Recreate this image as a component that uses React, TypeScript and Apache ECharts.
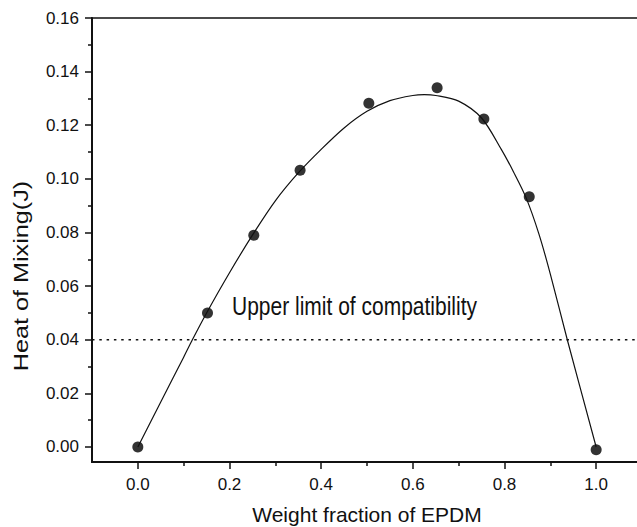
import React, { useEffect, useRef } from "react";
import * as echarts from "echarts";

// Measured data points (weight fraction of EPDM, heat of mixing in J)
const pointX = [0, 0.152, 0.253, 0.354, 0.504, 0.653, 0.755, 0.854, 1.0];
const pointY = [0, 0.05, 0.079, 0.1032, 0.1282, 0.134, 0.1223, 0.0933, -0.001];

// Fitted curve
const curveX = [0, 0.05, 0.1, 0.119, 0.15, 0.2, 0.25, 0.3, 0.35, 0.4, 0.45, 0.5, 0.55, 0.6, 0.625, 0.65, 0.7, 0.75, 0.793, 0.82, 0.847, 0.875, 0.9, 0.937, 1.0];
const curveY = [0, 0.0168, 0.0335, 0.04, 0.05, 0.065, 0.079, 0.0918, 0.1022, 0.111, 0.119, 0.1252, 0.1292, 0.1311, 0.1314, 0.1311, 0.129, 0.1227, 0.111, 0.1025, 0.093, 0.0795, 0.0645, 0.04, 0];

// Upper limit of compatibility
const limitX = [-0.1, 1.1];
const limitY = [0.04, 0.04];

const xTicks = [0, 0.2, 0.4, 0.6, 0.8, 1.0];
const xMinorTicks = [0.1, 0.3, 0.5, 0.7, 0.9];
const yTicks = [0, 0.02, 0.04, 0.06, 0.08, 0.1, 0.12, 0.14, 0.16];
const yMinorTicks = [0.01, 0.03, 0.05, 0.07, 0.09, 0.11, 0.13, 0.15];

const FONT = '"Liberation Sans", Arial, Helvetica, sans-serif';
const INK = "#111";

export default function App() {
  const ref = useRef<HTMLDivElement>(null);
  useEffect(() => {
    if (!ref.current) return;
    const chart = echarts.init(ref.current, null, { renderer: "svg" });
    const xBase = { type: "value", min: -0.1, max: 1.1, splitLine: { show: false }, position: "bottom" };
    const yBase = { type: "value", min: -0.0056, max: 0.16, splitLine: { show: false }, position: "left" };
    const tickAxis = (base: any, values: number[], len: number) => ({
      ...base,
      axisLine: { show: false, onZero: false },
      axisTick: { show: true, inside: false, customValues: values, length: len, lineStyle: { color: INK, width: 1.5 } },
      axisLabel: { show: false },
    });
    chart.setOption({
      animation: false,
      backgroundColor: "#fff",
      grid: {
        left: 92, top: 18, right: -5, bottom: 65,
        outerBoundsMode: "none",
        containLabel: false,
        show: true, borderColor: INK, borderWidth: 1.5, backgroundColor: "transparent",
      },
      xAxis: [
        {
          ...xBase,
          axisLine: { show: true, onZero: false, lineStyle: { color: INK, width: 2 } },
          axisTick: { show: false },
          axisLabel: {
            show: true, customValues: xTicks, margin: 14, fontSize: 17, fontFamily: FONT, color: INK,
            formatter: (v: number) => v.toFixed(1),
          },
          name: "Weight fraction of EPDM",
          nameLocation: "middle",
          nameGap: 42,
          nameTextStyle: { fontSize: 21, fontFamily: FONT, color: INK },
        },
        tickAxis(xBase, xTicks, 7),
        tickAxis(xBase, xMinorTicks, 4),
      ],
      yAxis: [
        {
          ...yBase,
          axisLine: { show: true, onZero: false, lineStyle: { color: INK, width: 2 } },
          axisTick: { show: false },
          axisLabel: {
            show: true, customValues: yTicks, margin: 13, fontSize: 17, fontFamily: FONT, color: INK,
            formatter: (v: number) => v.toFixed(2),
          },
        },
        tickAxis(yBase, yTicks, 7),
        tickAxis(yBase, yMinorTicks, 4),
      ],
      graphic: [
        {
          type: "text",
          x: 21,
          y: 276,
          rotation: Math.PI / 2,
          scaleX: 1.2,
          style: {
            text: "Heat of Mixing(J)",
            font: `21px ${FONT}`,
            fill: INK,
            align: "center",
            verticalAlign: "middle",
          },
        },
        {
          type: "text",
          x: 232,
          y: 306,
          scaleY: 1.2,
          style: {
            text: "Upper limit of compatibility",
            font: `21px ${FONT}`,
            fill: INK,
            align: "left",
            verticalAlign: "middle",
          },
        },
      ],
      series: [
        {
          type: "line",
          xAxisIndex: 0,
          yAxisIndex: 0,
          data: limitX.map((x, i) => [x, limitY[i]]),
          showSymbol: false,
          symbol: "none",
          lineStyle: { color: INK, width: 1.6, type: [2.5, 4.8] },
          silent: true,
        },
        {
          type: "line",
          xAxisIndex: 0,
          yAxisIndex: 0,
          data: curveX.map((x, i) => [x, curveY[i]]),
          smooth: 0.3,
          showSymbol: false,
          symbol: "none",
          lineStyle: { color: INK, width: 1.2 },
          silent: true,
        },
        {
          type: "scatter",
          xAxisIndex: 0,
          yAxisIndex: 0,
          data: pointX.map((x, i) => [x, pointY[i]]),
          symbol: "circle",
          symbolSize: 11,
          itemStyle: { color: "#000" },
          silent: true,
        },
      ],
    });
    return () => chart.dispose();
  }, []);
  return (
    <div
      ref={ref}
      style={{ position: "absolute", left: 0, top: 0, width: 637, height: 527 }}
    />
  );
}
